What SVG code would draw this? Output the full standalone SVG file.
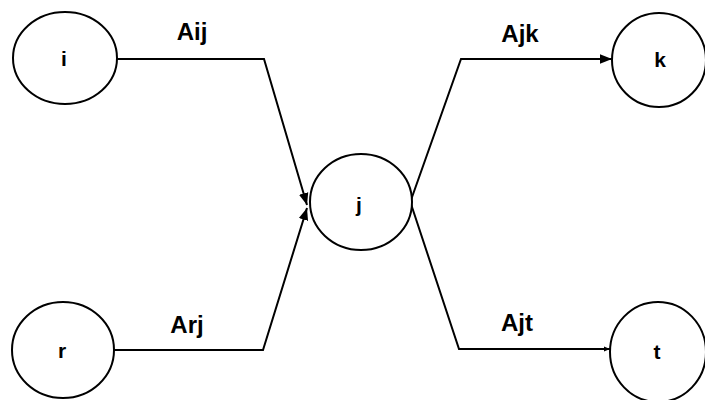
<svg xmlns="http://www.w3.org/2000/svg" width="705" height="400" viewBox="0 0 705 400">
<defs>
<style>
.node{fill:#fff;stroke:#000;stroke-width:2}
.lbl{font-family:"Liberation Sans",Arial,sans-serif;font-weight:bold;font-size:21px;fill:#000;text-anchor:middle}
.elbl{font-family:"Liberation Sans",Arial,sans-serif;font-weight:bold;font-size:24px;fill:#000;text-anchor:middle}
.edge{fill:none;stroke:#000;stroke-width:2}
</style>
<marker id="ah" viewBox="0 0 10 10" refX="10" refY="5" markerWidth="6" markerHeight="6" orient="auto" markerUnits="userSpaceOnUse">
<path d="M0,1 L10,5 L0,9 Z" fill="#000"/>
</marker>
<marker id="ah2" viewBox="0 0 10 10" refX="10" refY="5" markerWidth="12" markerHeight="12" orient="auto" markerUnits="userSpaceOnUse">
<path d="M0,1 L10,5 L0,9 Z" fill="#000"/>
</marker>
</defs>
<rect width="705" height="400" fill="#fff"/>
<g id="connectors">
<path class="edge" d="M117,59 L264,59 L307,205" marker-end="url(#ah2)"/>
<path class="edge" d="M113,350 L263,350 L307,208" marker-end="url(#ah2)"/>
<path class="edge" d="M411,200 L461,59 L612,59" marker-end="url(#ah2)"/>
<path class="edge" d="M411,204 L459,349 L610,349" marker-end="url(#ah)"/>
<text class="elbl" x="192" y="40">Aij</text>
<text class="elbl" x="187" y="333">Arj</text>
<text class="elbl" x="520" y="42">Ajk</text>
<text class="elbl" x="517" y="331">Ajt</text>
</g>
<g id="node-i">
<ellipse class="node" cx="65" cy="58" rx="52" ry="46"/>
<text class="lbl" x="64" y="66">i</text>
</g>
<g id="node-j">
<ellipse class="node" cx="361" cy="202" rx="51" ry="48"/>
<text class="lbl" x="359" y="212">j</text>
</g>
<g id="node-k">
<ellipse class="node" cx="659" cy="60" rx="47" ry="47"/>
<text class="lbl" x="660" y="67">k</text>
</g>
<g id="node-r">
<ellipse class="node" cx="63" cy="350" rx="51" ry="48"/>
<text class="lbl" x="62" y="358">r</text>
</g>
<g id="node-t">
<ellipse class="node" cx="658" cy="352" rx="48" ry="50"/>
<text class="lbl" x="657" y="359">t</text>
</g>
</svg>
